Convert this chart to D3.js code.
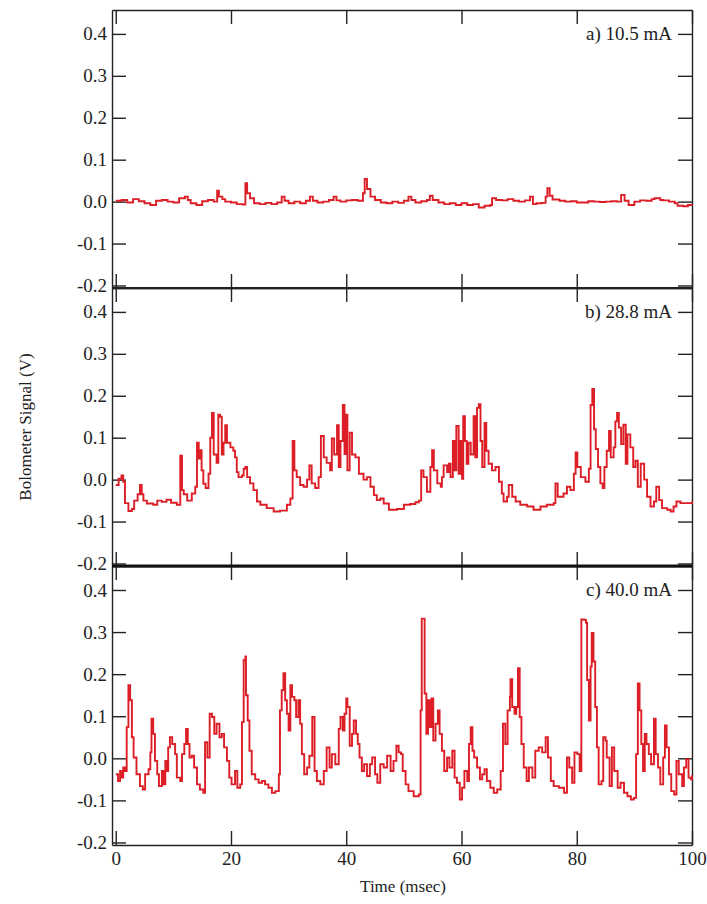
<!DOCTYPE html>
<html>
<head>
<meta charset="utf-8">
<script src="https://cdn.jsdelivr.net/npm/d3@7"></script>
<style>
  body { margin: 0; background: #fff; }
  svg { display: block; }
  text { font-family: "Liberation Serif", "DejaVu Serif", serif; fill: #222; }
</style>
</head>
<body>
<svg></svg>
<script>
const width = 707, height = 904;
const svg = d3.select("svg").attr("width", width).attr("height", height);

// Data: [time in msec, signal in V]
const panelLabels = ["a) 10.5 mA", "b) 28.8 mA", "c) 40.0 mA"];
const xTicks = [0, 20, 40, 60, 80, 100];
const yTicks = [-0.2, -0.1, 0.0, 0.1, 0.2, 0.3, 0.4];

const traceA = [
  [0, 0.002], [1, 0.004], [2, -0.002], [3, 0.006], [4, 0.001], [5, -0.004], [6, -0.008],
  [7, 0.002], [8, 0.004], [9, 0.0], [10, -0.002], [11, 0.008], [12, 0.012], [12.5, 0.004],
  [13, -0.004], [14, -0.008], [15, 0.001], [16, 0.004], [17, 0.0], [17.6, 0.026], [17.9, 0.012],
  [18.5, 0.006], [19, 0.0], [20, -0.002], [21, -0.006], [22, -0.007], [22.5, 0.044], [22.8, 0.02],
  [23.3, 0.008], [24, -0.004], [25, -0.006], [26, -0.003], [27, -0.006], [28, -0.002], [28.8, 0.012],
  [29.3, 0.002], [30, -0.004], [31, 0.0], [32, -0.004], [33, 0.002], [33.7, 0.012], [34.2, 0.002],
  [35, -0.002], [36, 0.0], [37, 0.004], [37.8, 0.012], [38.3, 0.003], [39, 0.0], [40, 0.003],
  [41, 0.004], [42, 0.002], [42.9, 0.02], [43.2, 0.054], [43.6, 0.03], [44.2, 0.012], [45, 0.004],
  [46, -0.002], [47, -0.004], [48, 0.0], [49, -0.003], [50, 0.002], [50.8, 0.012], [51.3, 0.004],
  [52, -0.002], [53, 0.001], [54, 0.004], [54.5, 0.014], [55, 0.004], [56, -0.002], [57, -0.006],
  [58, -0.004], [59, -0.008], [60, -0.004], [61, -0.008], [62, -0.006], [63, -0.014], [64, -0.01],
  [65, -0.008], [65.3, 0.008], [66, 0.004], [67, 0.003], [68, 0.006], [69, 0.002], [70, 0.0],
  [71, 0.003], [71.9, 0.012], [72.4, -0.006], [73, -0.004], [74, -0.003], [74.6, 0.012], [74.9, 0.032],
  [75.3, 0.014], [75.8, 0.005], [77, 0.002], [78, 0.0], [79, 0.001], [80, -0.002], [81, -0.002],
  [82, 0.001], [83, 0.0], [84, -0.001], [85, 0.0], [86, 0.001], [87, 0.0], [87.7, 0.016], [88.3, 0.002],
  [89, -0.008], [90, 0.0], [91, 0.003], [92, 0.002], [93, 0.006], [93.5, 0.008], [94.5, 0.004],
  [95, 0.003], [96, 0.0], [97, -0.004], [97.5, -0.01], [98.5, -0.011], [99.3, -0.008], [100, -0.007]
];

const traceB = [
  [0, -0.013], [0.5, 0.002], [1, 0.01], [1.3, -0.005], [1.6, -0.056], [2.2, -0.075], [2.8, -0.07],
  [3.2, -0.05], [3.8, -0.035], [4.2, -0.013], [4.5, -0.035], [4.8, -0.05], [5.4, -0.057], [6.5, -0.06],
  [7.2, -0.05], [8, -0.053], [8.8, -0.048], [9.6, -0.055], [10.6, -0.06], [11.2, 0.057], [11.5, -0.025],
  [11.8, -0.035], [12.4, -0.05], [13.2, -0.033], [13.8, -0.017], [14.1, 0.088], [14.4, 0.05], [14.6, 0.07],
  [14.9, 0.022], [15.2, -0.01], [15.6, -0.02], [16.1, 0.014], [16.4, 0.1], [16.7, 0.159], [17, 0.06],
  [17.5, 0.04], [17.8, 0.155], [18.1, 0.15], [18.4, 0.06], [18.7, 0.088], [19, 0.13], [19.3, 0.088],
  [19.9, 0.077], [20.4, 0.069], [20.7, 0.053], [21, 0.018], [21.3, 0.006], [21.9, 0.01], [22.2, 0.026],
  [22.5, 0.03], [22.8, 0.006], [23.3, -0.009], [23.9, -0.025], [24.5, -0.052], [25.1, -0.06], [26.2, -0.068],
  [27.4, -0.076], [28.5, -0.074], [29.7, -0.06], [30.3, -0.045], [30.7, 0.092], [31, 0.022], [31.4, 0.006],
  [32, -0.013], [32.6, -0.017], [33.2, 0.0], [33.6, 0.034], [34, -0.009], [34.6, -0.02], [35.2, 0.006],
  [35.6, 0.104], [36.1, 0.053], [36.6, 0.04], [37.2, 0.022], [37.5, 0.098], [37.9, 0.06], [38.4, 0.13],
  [38.7, 0.03], [39, 0.092], [39.4, 0.178], [39.7, 0.061], [40, 0.155], [40.2, 0.022], [40.6, 0.112],
  [41, 0.06], [41.6, 0.053], [42.2, 0.014], [43, 0.0], [43.6, 0.006], [44.2, -0.017], [44.8, -0.037],
  [45.3, -0.049], [45.9, -0.045], [46.5, -0.057], [47.4, -0.072], [48.8, -0.07], [50, -0.06], [51.1, -0.058],
  [52, -0.054], [52.6, -0.05], [53, 0.022], [53.4, 0.006], [54, -0.029], [54.6, 0.03], [54.9, 0.07],
  [55.2, 0.022], [55.8, -0.009], [56.4, -0.017], [56.6, 0.006], [56.9, 0.034], [57.5, 0.018], [57.8, 0.038],
  [58.1, 0.006], [58.5, 0.092], [58.8, 0.022], [59.1, 0.128], [59.5, 0.014], [59.8, 0.092], [60.1, 0.002],
  [60.3, 0.151], [60.6, 0.092], [60.9, 0.038], [61.2, 0.088], [61.6, 0.06], [62.1, 0.151], [62.4, 0.053],
  [62.7, 0.171], [63, 0.18], [63.3, 0.092], [63.6, 0.03], [64, 0.135], [64.3, 0.069], [64.7, 0.038],
  [65.3, 0.022], [65.9, 0.03], [66.5, -0.005], [67, -0.033], [67.3, -0.052], [67.9, -0.041], [68.2, -0.013],
  [68.8, -0.041], [69.4, -0.052], [70.2, -0.06], [71.4, -0.064], [72.5, -0.072], [73.7, -0.064], [74.8, -0.06],
  [76, -0.056], [76.3, -0.009], [76.7, -0.041], [77.7, -0.033], [78.3, -0.017], [78.9, -0.025], [79.5, 0.014],
  [79.8, 0.065], [80.1, 0.03], [80.7, 0.006], [81.5, -0.005], [82.1, 0.026], [82.4, 0.178], [82.7, 0.216],
  [83, 0.12], [83.3, 0.073], [83.7, 0.03], [84.1, -0.009], [84.5, -0.02], [84.8, 0.03], [85.2, 0.069],
  [85.6, 0.116], [85.9, 0.053], [86.4, 0.077], [86.7, 0.139], [87, 0.159], [87.3, 0.124], [87.7, 0.085],
  [88.1, 0.131], [88.5, 0.038], [88.8, 0.108], [89.3, 0.077], [89.8, 0.03], [90.2, 0.045], [90.6, -0.017],
  [91.1, 0.038], [91.7, 0.0], [92.2, -0.041], [92.8, -0.064], [93.4, -0.052], [93.8, -0.017], [94.3, -0.049],
  [94.8, -0.068], [95.7, -0.072], [96.3, -0.076], [96.8, -0.064], [97.3, -0.052], [98, -0.056], [99.2, -0.056],
  [100, -0.052]
];

const traceC = [
  [0, -0.038], [0.4, -0.054], [0.75, -0.03], [1, -0.046], [1.3, -0.022], [1.6, -0.03], [1.9, 0.074],
  [2.2, 0.174], [2.5, 0.138], [2.8, 0.05], [3.1, 0.002], [3.6, -0.038], [4.2, -0.066], [4.7, -0.074],
  [5.1, -0.038], [5.7, -0.026], [6, 0.014], [6.2, 0.094], [6.5, 0.058], [6.8, -0.006], [7.2, -0.038],
  [7.5, -0.066], [8, -0.03], [8.3, -0.062], [8.6, -0.006], [8.9, -0.03], [9.1, 0.026], [9.4, 0.05],
  [9.8, 0.034], [10.3, 0.01], [10.6, -0.046], [11.2, -0.054], [11.5, 0.01], [11.9, 0.034], [12.2, 0.07],
  [12.5, 0.034], [12.8, 0.002], [13.2, 0.006], [13.6, -0.022], [14.1, -0.062], [14.6, -0.074], [15.2, -0.082],
  [15.5, 0.038], [15.9, 0.002], [16.3, 0.106], [16.7, 0.098], [17.1, 0.058], [17.5, 0.082], [18, 0.05],
  [18.4, 0.058], [18.8, 0.026], [19.3, -0.006], [19.7, -0.046], [20.1, -0.062], [20.7, -0.03], [21.1, -0.07],
  [21.6, -0.062], [21.9, 0.086], [22.2, 0.234], [22.5, 0.242], [22.6, 0.15], [22.9, 0.09], [23.2, 0.018],
  [23.6, -0.038], [24.2, -0.05], [24.8, -0.058], [25.4, -0.054], [25.9, -0.062], [26.5, -0.07], [27.1, -0.082],
  [27.7, -0.078], [28.3, -0.038], [28.5, 0.114], [28.8, 0.162], [29.1, 0.202], [29.4, 0.138], [29.7, 0.106],
  [30, 0.066], [30.3, 0.174], [30.6, 0.146], [31, 0.138], [31.3, 0.098], [31.7, 0.138], [32, 0.082],
  [32.3, 0.01], [32.7, -0.038], [33.2, -0.022], [33.6, 0.006], [34.1, 0.098], [34.5, -0.03], [34.9, -0.054],
  [35.5, -0.062], [36.1, -0.03], [36.6, 0.026], [37.1, -0.022], [37.5, 0.01], [38.1, -0.014], [38.7, 0.07],
  [39, 0.098], [39.4, 0.066], [39.7, 0.106], [40, 0.142], [40.2, 0.122], [40.6, 0.03], [41, 0.058],
  [41.3, 0.09], [41.7, 0.058], [42, 0.034], [42.3, 0.002], [42.7, -0.03], [43.1, -0.014], [43.6, -0.042],
  [44.1, -0.014], [44.5, 0.002], [45, -0.038], [45.4, -0.058], [45.9, -0.014], [46.5, -0.022], [47.1, 0.006],
  [47.7, -0.03], [48.2, -0.006], [48.7, 0.03], [49.1, 0.014], [49.5, 0.01], [49.8, -0.03], [50.3, -0.062],
  [50.8, -0.078], [51.7, -0.09], [52.6, -0.086], [52.9, 0.114], [53.1, 0.332], [53.6, 0.154], [53.9, 0.058],
  [54.2, 0.138], [54.5, 0.074], [54.8, 0.142], [55.1, 0.042], [55.5, 0.082], [55.9, 0.114], [56.2, 0.058],
  [56.6, 0.018], [57, -0.03], [57.5, 0.002], [57.9, -0.022], [58.4, 0.018], [58.8, -0.046], [59.2, -0.058],
  [59.7, -0.098], [60.1, -0.07], [60.5, -0.03], [61, -0.054], [61.3, 0.034], [61.6, 0.074], [61.9, 0.018],
  [62.2, 0.002], [62.7, -0.022], [63.2, -0.05], [63.6, -0.038], [64, -0.026], [64.4, -0.054], [65, -0.07],
  [65.6, -0.082], [66.2, -0.074], [66.8, -0.03], [67.2, 0.082], [67.6, 0.034], [68, 0.114], [68.4, 0.146],
  [68.5, 0.188], [68.8, 0.122], [69.2, 0.106], [69.5, 0.122], [69.8, 0.214], [70.1, 0.098], [70.4, 0.034],
  [70.8, -0.022], [71.3, -0.054], [71.7, -0.022], [72.3, -0.046], [72.8, 0.018], [73.4, 0.026], [74, 0.014],
  [74.6, 0.05], [75, 0.002], [75.5, -0.054], [76, -0.066], [76.9, -0.07], [77.8, -0.082], [78.3, 0.002],
  [78.7, -0.022], [79.2, -0.058], [79.6, 0.014], [80.1, 0.01], [80.5, -0.03], [80.8, 0.33], [81.3, 0.329],
  [81.6, 0.322], [81.8, 0.186], [82.1, 0.09], [82.4, 0.218], [82.6, 0.298], [82.9, 0.23], [83.2, 0.122],
  [83.5, 0.026], [83.8, -0.062], [84.3, -0.054], [84.6, 0.05], [85, 0.042], [85.2, 0.002], [85.7, -0.066],
  [86.1, 0.026], [86.5, -0.03], [87.1, -0.07], [87.6, -0.058], [88.2, -0.082], [88.8, -0.09], [89.4, -0.098],
  [89.9, -0.094], [90.3, 0.01], [90.6, 0.178], [90.9, 0.114], [91.2, 0.034], [91.5, -0.03], [91.8, 0.058],
  [92.1, 0.034], [92.5, 0.01], [92.9, -0.014], [93.4, 0.094], [93.7, 0.01], [94.1, -0.022], [94.5, -0.062],
  [95, 0.002], [95.3, 0.078], [95.6, 0.026], [96, -0.038], [96.4, -0.078], [96.9, -0.086], [97.3, -0.006],
  [97.7, -0.038], [98.3, -0.066], [98.6, -0.022], [99, -0.002], [99.4, -0.046], [99.8, -0.05], [100, -0.04]
];

const traces = [traceA, traceB, traceC];

// Layout
const left = 112, right = 692;
const edges = [10, 288, 566, 845];   // panel boundaries (top of a ... bottom of c)
const ink = "#222", red = "#dc1e26";

const x = d3.scaleLinear().domain([-0.65, 100]).range([left, right]);
const fmt = d => d.toFixed(1);

traces.forEach((trace, i) => {
  const top = edges[i], bottom = edges[i + 1];
  const y = d3.scaleLinear().domain([-0.206, 0.457]).range([bottom, top]);
  const g = svg.append("g");

  // axes, ticks pointing inward on all four sides
  const axL = g.append("g").attr("transform", `translate(${left},0)`)
    .call(d3.axisLeft(y).tickValues(yTicks).tickSize(-14).tickSizeOuter(0).tickPadding(5).tickFormat(fmt));
  const axR = g.append("g").attr("transform", `translate(${right},0)`)
    .call(d3.axisRight(y).tickValues(yTicks).tickSize(-14).tickSizeOuter(0).tickFormat(""));
  const axT = g.append("g").attr("transform", `translate(0,${top})`)
    .call(d3.axisTop(x).tickValues(xTicks).tickSize(-14).tickSizeOuter(0).tickFormat(""));
  const axB = g.append("g").attr("transform", `translate(0,${bottom})`)
    .call(d3.axisBottom(x).tickValues(xTicks).tickSize(-14).tickSizeOuter(0).tickPadding(7)
      .tickFormat(i === 2 ? d3.format("d") : ""));

  [axL, axR, axT, axB].forEach(ax => {
    ax.selectAll("path, line").attr("stroke", ink).attr("stroke-width", 1.4);
    ax.selectAll("text").attr("fill", ink)
      .style("font-family", '"Liberation Serif", "DejaVu Serif", serif').style("font-size", "19px");
  });

  // the signal
  const line = d3.line().x(d => x(d[0])).y(d => y(d[1])).curve(d3.curveStepAfter);
  g.append("path").datum(trace)
    .attr("fill", "none").attr("stroke", red).attr("stroke-width", 1.9)
    .attr("stroke-linejoin", "miter").attr("d", line);

  // panel label
  g.append("text")
    .attr("x", 672).attr("y", top + 30)
    .attr("text-anchor", "end").style("font-size", "19px")
    .text(panelLabels[i]);
});

// heavier lines where panels meet
svg.append("line").attr("x1", left).attr("x2", right).attr("y1", edges[1]).attr("y2", edges[1])
  .attr("stroke", ink).attr("stroke-width", 1.8);
svg.append("line").attr("x1", left).attr("x2", right).attr("y1", edges[2]).attr("y2", edges[2])
  .attr("stroke", "#111").attr("stroke-width", 3);

// axis titles
svg.append("text")
  .attr("transform", `translate(31,427) rotate(-90)`)
  .attr("text-anchor", "middle").style("font-size", "17px")
  .text("Bolometer Signal (V)");
svg.append("text")
  .attr("x", 403).attr("y", 892)
  .attr("text-anchor", "middle").style("font-size", "17px")
  .text("Time (msec)");
</script>
</body>
</html>
